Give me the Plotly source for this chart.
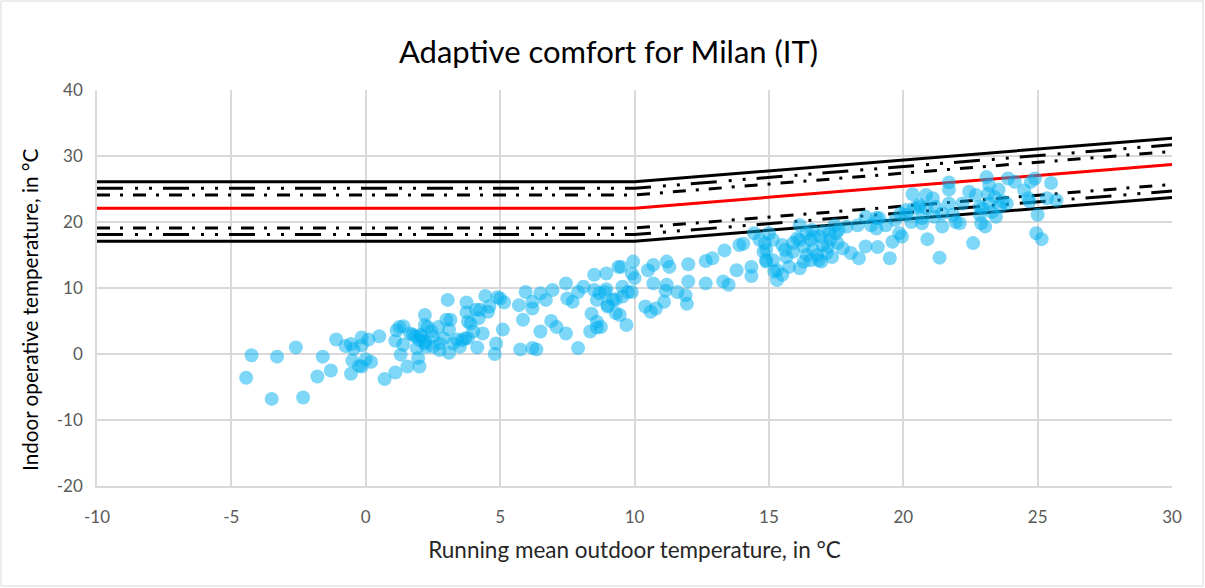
import plotly.graph_objects as go

# Running mean outdoor temperature (x) vs indoor operative temperature (y)
trm_obs = [
    -4.45, -4.25, -3.5, -3.3, -2.6, -2.33, -1.6, -1.8, -1.3, -1.1, -0.75, -0.55, -0.45, -0.15, 0.1, -0.15,
    -0.5, -0.25, 0.0, 0.2, -0.15, -0.55, 0.5, 0.7, 1.1, 1.55, 1.1, 1.4, 1.3, 1.9, 2.0, 1.95, 1.15, 1.25,
    1.75, 1.4,
    1.65, 1.85, 2.05, 2.2, 2.2, 2.3, 2.45, 2.7, 3.05, 3.0, 3.15, 3.1, 2.9, 2.75, 2.2, 2.0, 2.5, 3.1, 3.4,
    3.5, 3.7, 3.75, 3.75, 3.8, 3.9, 4.0, 4.2, 4.25, 4.45, 4.55, 4.6, 4.35, 4.15, 4.85, 4.8, 4.9, 5.15, 5.1,
    2.05, 2.2, 2.25, 2.5, 2.75, 3.25, 3.6, 3.8, 4.1, 5.0,
    5.7, 5.95, 6.2, 6.2, 5.85, 5.75, 6.2, 6.35, 6.5, 6.5, 6.7, 6.95, 6.9, 7.1, 7.45, 7.5, 7.45, 7.7, 7.9,
    8.1, 7.9, 8.4, 8.6, 8.6, 8.35, 8.5, 8.95, 8.5, 8.7, 8.6, 8.9, 9.0, 9.2, 9.4, 9.3, 8.95,
    9.5, 9.95, 9.9, 10.0, 9.55, 9.75, 9.9, 9.55, 9.3, 9.0, 9.45, 9.7, 8.75, 10.5, 10.7, 11.2, 11.3, 10.7,
    11.2, 11.15, 11.6, 11.1, 10.8, 10.6, 10.4, 11.9, 11.95, 12.0, 12.0, 12.65, 12.65, 12.9, 13.3, 13.5,
    13.35, 13.8, 13.9, 14.05, 14.35, 14.35, 14.45, 14.65, 14.8, 14.9, 15.15, 15.15, 15.2, 15.3,
    14.85, 14.9, 15.3, 15.5, 15.65, 15.9, 16.05, 16.15, 16.15, 16.3, 16.4, 16.55, 16.6, 16.65, 16.85, 16.9,
    17.0, 17.15, 17.25, 17.3, 17.35, 17.45, 17.55, 17.75, 17.9, 18.05, 18.35, 18.3, 18.6, 18.6, 18.8, 19.0,
    19.05, 19.1, 19.35, 19.5, 19.6, 19.7, 19.85, 19.95, 20.1, 20.35, 20.6, 20.85, 20.9, 20.7, 15.0, 16.4,
    16.65, 17.05, 17.2, 16.8, 16.15, 15.9, 15.6, 17.5, 17.6, 16.55, 16.95, 16.3, 15.75, 14.9, 19.0, 15.5,
    21.1, 21.7, 21.7, 21.7, 20.6, 20.85, 21.2, 21.15, 20.3, 21.45, 21.95, 22.1, 21.85, 22.2, 22.45, 22.6,
    21.35, 22.7, 22.85, 22.9, 23.05, 23.1, 23.2, 23.15, 23.4, 23.55, 23.2, 23.3, 23.6, 23.7, 23.85, 23.9,
    24.15, 22.95, 22.85, 23.45, 24.5, 24.65, 24.75, 24.9, 24.7, 25.0, 24.95, 25.15, 25.35, 25.5, 25.7,
    19.9, 20.1, 20.4, 20.7, 21.45,
]
top_obs = [
    -3.6, -0.2, -6.8, -0.4, 1.0, -6.6, -0.4, -3.4, -2.5, 2.2, 1.2, 1.5, 0.8, 2.5, 2.2, 1.3,
    -1.0, -1.8, -0.8, -1.2, -1.9, -3.0, 2.7, -3.8, -2.8, -1.9, 2.0, 1.4, -0.1, 0.9, -1.9, -0.6, 3.6, 4.1,
    2.9, 4.2,
    3.1, 2.7, 2.6, 5.9, 4.4, 4.1, 3.4, 4.1, 8.2, 5.2, 5.2, 3.7, 2.4, 1.6, 1.6, 2.1, 1.1, 0.2, 2.2,
    1.1, 2.4, 7.8, 6.3, 4.9, 4.6, 3.4, 5.4, 6.7, 8.8, 6.4, 7.2, 3.1, 1.0, 1.6, 0.0, 8.6, 7.8, 3.7,
    2.9, 1.9, 1.1, 2.6, 0.6, 1.6, 2.1, 2.4, 6.7, 8.4,
    7.4, 9.4, 7.9, 6.9, 5.2, 0.7, 0.9, 0.7, 3.4, 9.2, 8.2, 9.7, 5.0, 4.1, 10.7, 8.4, 3.1, 7.9, 9.4,
    10.2, 0.9, 6.1, 4.9, 4.0, 3.4, 12.0, 12.2, 9.7, 9.2, 8.2, 9.4, 7.4, 8.2, 13.2, 6.2, 9.8,
    13.2, 14.0, 12.2, 11.5, 10.2, 9.4, 9.4, 8.7, 8.3, 7.2, 5.9, 4.4, 4.1, 12.7, 13.5, 14.0, 13.2, 10.7,
    10.5, 9.6, 9.4, 7.9, 6.9, 6.4, 7.2, 8.9, 7.6, 13.6, 11.0, 10.7, 14.1, 14.5, 11.0, 10.5,
    15.7, 12.7, 16.5, 16.7, 13.2, 11.8, 18.3, 17.3, 15.5, 14.0, 17.3, 14.2, 12.5, 11.2,
    16.8, 14.2, 12.7, 16.5, 14.7, 15.5, 17.5, 19.5, 13.0, 16.3, 15.0, 17.3, 18.8, 15.8, 14.2, 17.8,
    16.5, 15.3, 18.3, 17.3, 14.7, 19.5, 16.8, 16.0, 19.3, 15.3, 14.5, 19.5, 20.8, 16.3, 19.5, 19.0,
    16.2, 20.6, 19.5, 14.5, 17.0, 20.3, 18.3, 17.8, 21.8, 24.2, 22.3, 24.1, 17.4, 19.8, 18.3, 18.3,
    17.8, 18.6, 16.3, 15.0, 17.3, 16.8, 15.8, 18.3, 18.8, 14.2, 14.0, 14.0, 13.2, 15.8, 20.6, 12.0,
    23.6, 26.0, 24.9, 22.8, 22.6, 22.1, 22.3, 20.8, 20.0, 19.3, 20.0, 19.8, 21.1, 22.8, 24.6, 16.8,
    14.6, 24.1, 22.3, 19.8, 19.3, 26.8, 25.6, 24.3, 23.8, 24.9, 22.8, 21.5, 22.3, 23.1, 22.8, 26.6,
    26.1, 22.1, 21.1, 20.8, 24.8, 23.6, 26.1, 26.6, 23.1, 21.1, 18.3, 17.4, 23.6, 25.9, 23.3,
    21.3, 21.1, 22.1, 20.6, 21.3,
]

# Comfort band lines
trm_line = [-10, 10, 30]
cat3_up = [26.1, 26.1, 32.7]
cat2_up = [25.1, 25.1, 31.7]
cat1_up = [24.1, 24.1, 30.7]
comfort = [22.1, 22.1, 28.7]
cat1_lo = [19.1, 19.1, 25.7]
cat2_lo = [18.1, 18.1, 24.7]
cat3_lo = [17.1, 17.1, 23.7]

# Tick labels
x_ticks = [-10, -5, 0, 5, 10, 15, 20, 25, 30]
x_tick_text = ["-10", "-5", "0", "5", "10", "15", "20", "25", "30"]
y_ticks = [-20, -10, 0, 10, 20, 30, 40]
y_tick_text = ["-20", "-10", "0", "10", "20", "30", "40"]

LDD = "26px,12px,3px,11px,3px,11px"
DD = "13px,10px,3px,10px"

fig = go.Figure()
line_specs = [
    (cat3_up, "black", "solid"),
    (cat2_up, "black", LDD),
    (cat1_up, "black", DD),
    (comfort, "#FF0000", "solid"),
    (cat1_lo, "black", DD),
    (cat2_lo, "black", LDD),
    (cat3_lo, "black", "solid"),
]
for ys, col, dash in line_specs:
    fig.add_trace(go.Scatter(x=trm_line, y=ys, mode="lines",
                             line=dict(color=col, width=3, dash=dash),
                             hoverinfo="skip", showlegend=False))

fig.add_trace(go.Scatter(x=trm_obs, y=top_obs, mode="markers",
                         marker=dict(size=14, color="rgba(0,176,240,0.5)", line=dict(width=0)),
                         showlegend=False))

L, R, T, B = 97, 33, 90, 102
W, H = 1205, 588
pw, ph = W - L - R, H - T - B

fig.update_layout(
    width=W, height=H,
    margin=dict(l=L, r=R, t=T, b=B),
    paper_bgcolor="white", plot_bgcolor="white",
    font=dict(family="Lato, Open Sans, sans-serif", color="#595959"),
    title=dict(text="Adaptive comfort for Milan (IT)", x=0.505, xanchor="center",
               y=1 - 52 / H, yanchor="middle",
               font=dict(size=31, color="#000000")),
    xaxis=dict(range=[-10, 30], tickvals=x_ticks, ticktext=x_tick_text,
               showgrid=True, gridcolor="#D9D9D9", gridwidth=1.5,
               zeroline=False, showline=True, linecolor="#D9D9D9", linewidth=1.5,
               ticks="", tickfont=dict(size=17, color="#595959"), ticklabelstandoff=15,
               title=dict(text="Running mean outdoor temperature, in °C", font=dict(size=22.5, color="#262626"),
                          standoff=16)),
    yaxis=dict(range=[-20, 40], tickvals=y_ticks, ticktext=y_tick_text,
               showgrid=True, gridcolor="#D9D9D9", gridwidth=1.5,
               zeroline=False, showline=True, linecolor="#D9D9D9", linewidth=1.5,
               ticks="", tickfont=dict(size=17, color="#595959"), ticklabelstandoff=9),
    annotations=[dict(text="Indoor operative temperature, in °C", textangle=-90,
                      xref="paper", yref="paper", x=(30 - L) / pw, y=1 - (310 - T) / ph,
                      xanchor="center", yanchor="middle", showarrow=False,
                      font=dict(size=20.7, color="#000000"))],
)

fig.add_shape(type="rect", xref="paper", yref="paper",
              x0=(1 - L) / pw, x1=(W - 2 - L) / pw,
              y0=1 - (H - 2 - T) / ph, y1=1 + (T - 1) / ph,
              line=dict(color="#D9D9D9", width=1), fillcolor="rgba(0,0,0,0)", layer="below")

fig.write_html("out.html", config={"displayModeBar": False},
               post_script="document.body.style.margin='0px';")
